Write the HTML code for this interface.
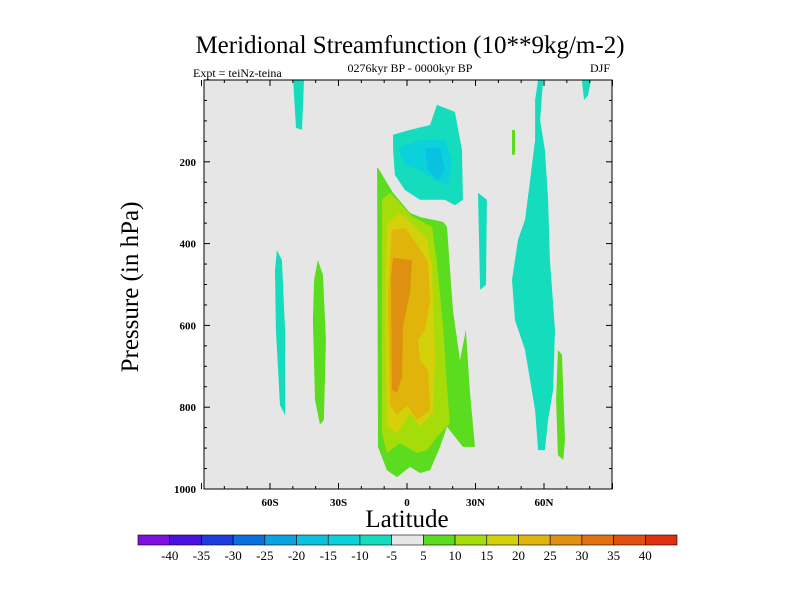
<!DOCTYPE html>
<html><head><meta charset="utf-8"><style>
body{margin:0;background:#fff;}
svg{display:block;font-family:"Liberation Serif",serif;}
</style></head><body>
<svg id="c" width="800" height="600" xmlns="http://www.w3.org/2000/svg">
<text x="410" y="53" font-size="25" text-anchor="middle">Meridional Streamfunction (10**9kg/m-2)</text>
<text x="193" y="77" font-size="12">Expt = teiNz-teina</text>
<text x="410" y="72" font-size="12" text-anchor="middle">0276kyr BP - 0000kyr BP</text>
<text x="610" y="72" font-size="12" text-anchor="end">DJF</text>
<text transform="translate(138,287) rotate(-90)" font-size="25" text-anchor="middle">Pressure (in hPa)</text>
<text x="407" y="527" font-size="25" text-anchor="middle">Latitude</text>
<g id="plot"></g>
<g id="cbar"></g>
</svg>
<script>
const levels=[-40,-35,-30,-25,-20,-15,-10,-5,5,10,15,20,25,30,35,40];
const colors=["#8010e0","#4a10e0","#1e3ce0","#0a70e0","#0aa2e0","#0ac2e0","#0bd2da","#14dcbc","#e6e6e6","#5cdc1e","#a6dc0a","#d4d00a","#e0b40a","#e09010","#e07010","#e05010","#e03010"];
const xTicks=[-60,-30,0,30,60];
const xTickLabels=["60S","30S","0","30N","60N"];
const yTicks=[200,400,600,800,1000];
// regions: color bin index + polygon [lat, pressure]
const regionBins=[9,10,11,12,13,7,6,5,7,7,9,7,9,7,7,9];
const regionPts=[
[[-12.7,215],[-6.1,276],[1.3,325],[5.7,335],[15.8,347],[17.5,359],[20.1,562],[23.2,685],[25.8,611],[27.6,765],[29.8,897],[24.5,897],[17.5,848],[14.5,897],[10.1,954],[5.7,961],[1.3,946],[-4.4,971],[-8.8,954],[-12.7,897],[-13.1,215]],
[[-7.4,276],[2.6,335],[11,359],[13.1,447],[15.8,604],[17.5,751],[18.8,839],[13.1,873],[8.8,905],[4.4,912],[-3.1,888],[-8.8,912],[-11,863],[-11,293]],
[[-8.8,350],[-3.1,325],[3.5,359],[8.8,391],[11,457],[12.3,685],[11.4,814],[5.7,848],[1.3,814],[-4.4,863],[-8.8,848],[-9.6,521]],
[[-6.6,367],[-0.9,362],[4.4,403],[9.2,445],[10.1,538],[7.9,611],[4.8,636],[5.7,685],[9.2,709],[10.1,807],[4.4,831],[0,795],[-4.4,819],[-7.4,795],[-8.3,538]],
[[-6.1,435],[2.2,440],[1.3,521],[-1.8,604],[-2.2,726],[-4.4,765],[-6.6,758],[-7,482]],
[[-6.1,134],[1.3,122],[10.1,110],[13.1,61],[21,78],[24.1,171],[24.5,293],[21,306],[16.6,293],[5.7,293],[-0.9,269],[-5.3,232],[-6.1,171]],
[[-3.9,166],[5.7,147],[16.6,147],[19.7,196],[18,257],[12.3,245],[5.7,220],[-0.9,208]],
[[7.9,166],[14.5,166],[16.6,220],[13.6,245],[9.2,220]],
[[-49.9,0],[-45.1,0],[-46,122],[-48.6,117]],
[[-57,416],[-54.8,440],[-53.4,611],[-53.4,819],[-55.6,795],[-57.4,611],[-57.8,465]],
[[-39,440],[-36.8,477],[-35.5,636],[-36.4,831],[-38.1,843],[-40.3,782],[-41.2,587],[-40.7,489]],
[[31.1,276],[35,293],[34.6,501],[32,513]],
[[46,122],[47.3,122],[47.3,183],[46,183]],
[[57.4,0],[59.6,0],[58.3,98],[60.4,171],[61.8,293],[62.6,440],[64.8,611],[64,758],[61.8,831],[60.4,905],[57.4,905],[56.1,807],[53.9,734],[51.7,660],[47.3,587],[46,489],[48.6,391],[51.7,342],[53.9,245],[56.1,147],[56.1,49]],
[[76.6,0],[80.6,0],[79.3,37],[77.5,49]],
[[66.1,660],[67.9,672],[69.2,880],[68.4,929],[66.1,917],[65.3,782]]
];
const NS="http://www.w3.org/2000/svg";
const X0=204,X1=612,Y0=80,Y1=489;
const xs=lat=>407+lat*68.5/30;
const ys=p=>Y0+p*(Y1-Y0)/1000;
function mk(tag,attrs,parent){const e=document.createElementNS(NS,tag);for(const k in attrs)e.setAttribute(k,attrs[k]);parent.appendChild(e);return e;}
const g=document.getElementById('plot');
const bg=mk('rect',{x:X0,y:Y0,width:X1-X0,height:Y1-Y0,fill:colors[8]},g);


regionPts.forEach((pts,i)=>{
  const p=mk('polygon',{points:pts.map(q=>xs(q[0]).toFixed(1)+','+ys(q[1]).toFixed(1)).join(' '),fill:colors[regionBins[i]]},g);
  
  
});
const fr=mk('rect',{x:X0,y:Y0,width:X1-X0,height:Y1-Y0,fill:'none',stroke:'#000','stroke-width':1},g);


for(let l=-90;l<=90;l+=10){const x=xs(l);const big=l%30===0;
  mk('line',{x1:x,y1:Y1,x2:x,y2:Y1-(big?6:3),stroke:'#000'},g);
  mk('line',{x1:x,y1:Y0,x2:x,y2:Y0+(big?6:3),stroke:'#000'},g);}
xTicks.forEach((l,i)=>{const t=mk('text',{x:xs(l),y:Y1+17,'font-size':11,'font-weight':'bold','text-anchor':'middle'},g);t.textContent=xTickLabels[i];
  
  });
for(let p=0;p<=1000;p+=50){const y=ys(p);const big=p%200===0;
  mk('line',{x1:X0,y1:y,x2:X0+(big?6:3),y2:y,stroke:'#000'},g);
  mk('line',{x1:X1,y1:y,x2:X1-(big?6:3),y2:y,stroke:'#000'},g);}
yTicks.forEach(p=>{const t=mk('text',{x:X0-8,y:ys(p)+4,'font-size':11,'font-weight':'bold','text-anchor':'end'},g);t.textContent=p;
  
  });
const cb=document.getElementById('cbar');
const cbx=138,cbw=(677-138)/colors.length;
colors.forEach((c,i)=>{const r=mk('rect',{x:cbx+i*cbw,y:535,width:cbw,height:10,fill:c,stroke:'#000','stroke-width':0.6},cb);
  
  });
levels.forEach((v,i)=>{const t=mk('text',{x:cbx+(i+1)*cbw,y:560,'font-size':13,'text-anchor':'middle'},cb);t.textContent=v;
  
  });
</script>
</body></html>
